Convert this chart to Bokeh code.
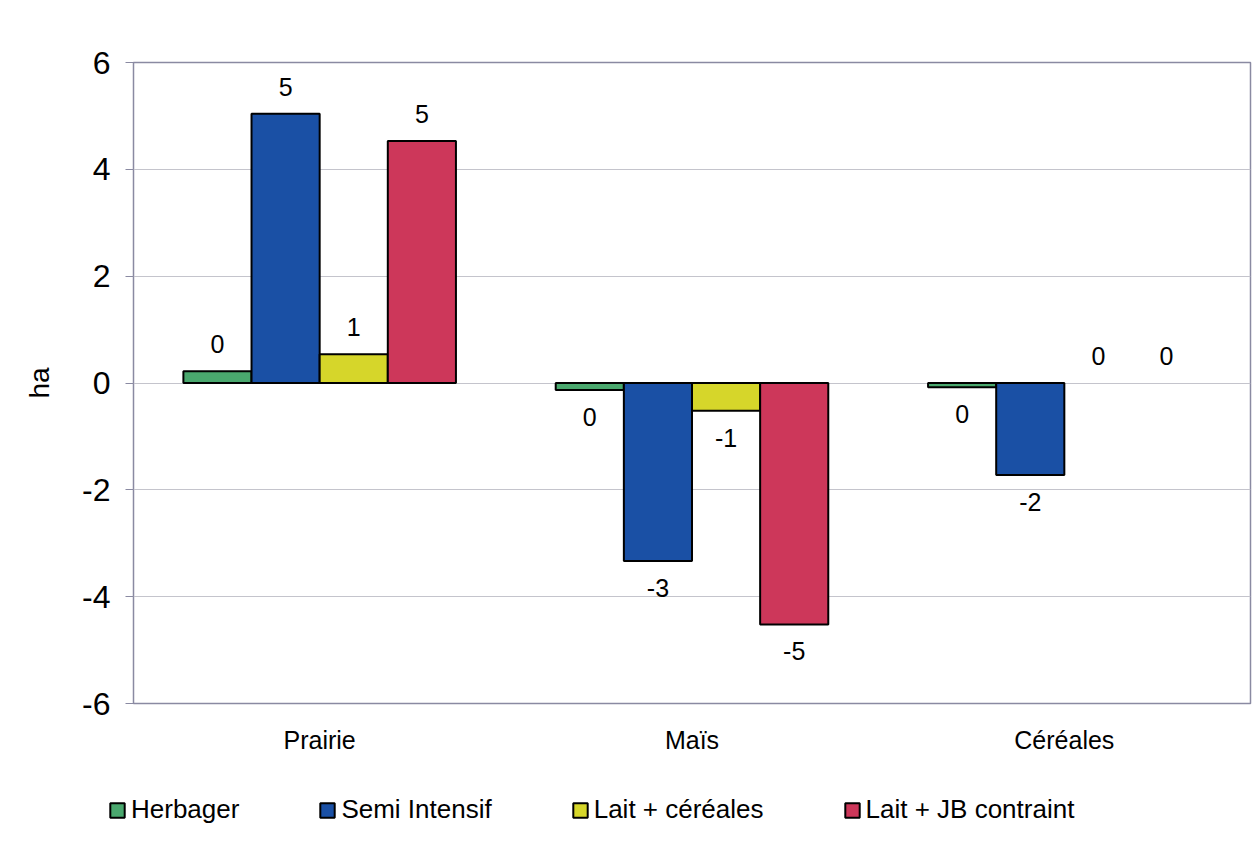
import numpy as np
from bokeh.plotting import figure
from bokeh.layouts import column
from bokeh.models import ColumnDataSource, FixedTicker, Legend, LegendItem, Range1d
from bokeh.transform import dodge
from bokeh.core.properties import value
from bokeh.embed import file_html
from bokeh.resources import INLINE

# Surface change per system (ha)
categories = ["Prairie", "Maïs", "Céréales"]
series_names = ["Herbager", "Semi Intensif", "Lait + céréales", "Lait + JB contraint"]
herbager = [0.22, -0.13, -0.08]
semi_intensif = [5.04, -3.33, -1.72]
lait_cereales = [0.54, -0.52, 0.0]
lait_jb = [4.53, -4.52, 0.0]
series_values = [herbager, semi_intensif, lait_cereales, lait_jb]
colors = ["#4aa86e", "#1a50a5", "#d6d62a", "#cd375a"]
y_ticks = [-6, -4, -2, 0, 2, 4, 6]

FONT = "Liberation Sans"
BAR_W = 0.183


def fmt(v):
    r = int(np.sign(v) * np.floor(abs(v) + 0.5))
    return str(r) if r != 0 else "0"


p = figure(
    x_range=categories, y_range=(-6, 6),
    width=1258, height=775,
    output_backend="svg", toolbar_location=None,
    min_border_left=133, min_border_right=8,
    min_border_top=62, min_border_bottom=72,
)
p.background_fill_color = "white"
p.border_fill_color = "white"
p.outline_line_color = "#8a8aa2"
p.outline_line_width = 1.5

offsets = [-1.5 * BAR_W, -0.5 * BAR_W, 0.5 * BAR_W, 1.5 * BAR_W]
sources = []
for name, vals, col, off in zip(series_names, series_values, colors, offsets):
    src = ColumnDataSource(dict(
        cat=categories,
        val=vals,
        label=[fmt(v) for v in vals],
        yoff=[-27 if v >= 0 else 27 for v in vals],
        lalpha=[0.0 if v == 0 else 1.0 for v in vals],
    ))
    sources.append(src)
    xd = dodge("cat", off, range=p.x_range)
    p.vbar(x=xd, top="val", bottom=0, width=BAR_W, source=src,
           fill_color=col, line_color="black", line_width=2,
           line_alpha="lalpha")
    p.text(x=xd, y="val", text="label", y_offset="yoff", source=src,
           text_font=value(FONT), text_font_size="25px",
           text_align="center", text_baseline="middle", text_color="black")

# axes
p.yaxis.ticker = FixedTicker(ticks=y_ticks)
p.yaxis.major_label_overrides = {t: str(t) for t in y_ticks}
p.yaxis.axis_label = "ha"
p.yaxis.axis_label_text_font = FONT
p.yaxis.axis_label_text_font_size = "28px"
p.yaxis.axis_label_text_font_style = "normal"
p.yaxis.axis_label_text_color = "black"
p.yaxis.axis_label_standoff = 24
p.yaxis.major_label_text_font = FONT
p.yaxis.major_label_text_font_size = "32px"
p.yaxis.major_label_text_color = "black"
p.yaxis.major_label_standoff = 15
p.yaxis.axis_line_color = None
p.yaxis.major_tick_line_color = "#8a8aa2"
p.yaxis.major_tick_out = 8
p.yaxis.major_tick_in = 0
p.yaxis.minor_tick_line_color = None

p.xaxis.major_label_text_font = FONT
p.xaxis.major_label_text_font_size = "25px"
p.xaxis.major_label_text_color = "black"
p.xaxis.major_label_standoff = 16
p.xaxis.axis_line_color = None
p.xaxis.major_tick_line_color = None
p.xaxis.minor_tick_line_color = None

p.xgrid.grid_line_color = None
p.ygrid.ticker = FixedTicker(ticks=y_ticks)
p.ygrid.grid_line_color = "#c4c4cc"
p.ygrid.grid_line_width = 1

# legend strip under the chart; its renderers are hidden, only the keys show
lg = figure(width=1258, height=74, x_range=categories, y_range=Range1d(10, 11),
            output_backend="svg", toolbar_location=None, min_border=0)
try:
    lg.frame_align = False
except AttributeError:
    pass
lg.axis.visible = False
lg.grid.grid_line_color = None
lg.outline_line_color = None
lg.background_fill_color = "white"
lg.border_fill_color = "white"
items = []
for name, col, src, off in zip(series_names, colors, sources, offsets):
    r = lg.vbar(x=dodge("cat", off, range=lg.x_range), top="val", bottom=0,
                width=BAR_W, source=src, fill_color=col,
                line_color="black", line_width=2)
    r.visible = False
    items.append(LegendItem(label=name, renderers=[r], index=0))
legend = Legend(
    items=items,
    orientation="horizontal",
    location=(108, 24),
    padding=0, margin=0, spacing=79,
    glyph_width=18, glyph_height=18, label_standoff=5,
    label_text_font=FONT, label_text_font_size="26px",
    label_text_color="black",
    border_line_color=None, background_fill_alpha=0,
)
lg.add_layout(legend, "center")

open("out.html", "w").write(file_html(column(p, lg, spacing=0), INLINE))
